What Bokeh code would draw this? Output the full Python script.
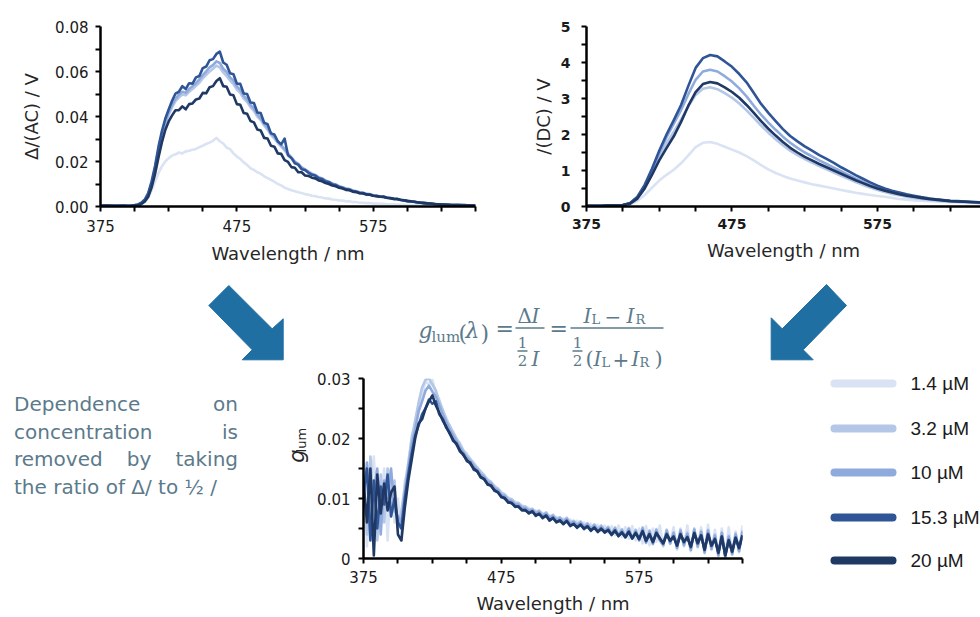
import numpy as np
from bokeh.plotting import figure
from bokeh.models import Range1d, FixedTicker, PrintfTickFormatter, CustomJSTickFormatter, Div
from bokeh.layouts import row, column
from bokeh.core.properties import value
from bokeh.embed import file_html
from bokeh.resources import INLINE

# ---------------- data ----------------
conc_labels = ["1.4 µM", "3.2 µM", "10 µM", "15.3 µM", "20 µM"]
conc_colors = ["#dae3f3", "#b4c7e7", "#8faadc", "#2f5597", "#1f3864"]

wl_dc = np.arange(375, 651, 5)          # 56 points, 5 nm grid
wl_fine = np.arange(375, 650.01, 2.5)   # 111 points, 2.5 nm grid

x_major = [375, 475, 575]
x_minor = [400, 425, 450, 500, 525, 550, 600, 625, 650]
ac_major = [0, 0.02, 0.04, 0.06, 0.08]
ac_minor = [0.01, 0.03, 0.05, 0.07]
dc_major = [0, 1, 2, 3, 4, 5]
dc_minor = [0.5, 1.5, 2.5, 3.5, 4.5]
g_major = [0, 0.01, 0.02, 0.03]
g_minor = [0.005, 0.015, 0.025]

# I(DC) / V
dc_14 = [0.01, 0.01, 0.01, 0.02, 0.02, 0.03, 0.06, 0.15, 0.32, 0.52,
         0.72, 0.88, 1.02, 1.20, 1.42, 1.65, 1.77, 1.79, 1.74, 1.66,
         1.58, 1.50, 1.40, 1.28, 1.15, 1.03, 0.93, 0.85, 0.78, 0.72,
         0.67, 0.62, 0.58, 0.54, 0.50, 0.46, 0.42, 0.38, 0.35, 0.32,
         0.29, 0.27, 0.24, 0.21, 0.19, 0.17, 0.16, 0.15, 0.14, 0.13,
         0.12, 0.11, 0.10, 0.10, 0.09, 0.09]
dc_32 = [0.02, 0.02, 0.02, 0.03, 0.03, 0.04, 0.09, 0.25, 0.55, 0.95,
         1.38, 1.75, 2.08, 2.42, 2.78, 3.10, 3.27, 3.31, 3.26, 3.15,
         3.02, 2.86, 2.67, 2.46, 2.25, 2.05, 1.87, 1.70, 1.55, 1.43,
         1.32, 1.22, 1.12, 1.03, 0.94, 0.85, 0.77, 0.68, 0.60, 0.53,
         0.46, 0.40, 0.35, 0.31, 0.27, 0.24, 0.21, 0.19, 0.17, 0.15,
         0.14, 0.13, 0.12, 0.11, 0.10, 0.09]
dc_10 = [0.02, 0.02, 0.02, 0.03, 0.03, 0.04, 0.09, 0.25, 0.57, 1.00,
         1.48, 1.92, 2.30, 2.68, 3.12, 3.52, 3.75, 3.80, 3.75, 3.62,
         3.47, 3.28, 3.06, 2.80, 2.55, 2.33, 2.13, 1.94, 1.77, 1.63,
         1.50, 1.39, 1.28, 1.18, 1.08, 0.98, 0.88, 0.78, 0.69, 0.60,
         0.52, 0.45, 0.40, 0.35, 0.31, 0.27, 0.24, 0.21, 0.19, 0.17,
         0.15, 0.14, 0.13, 0.12, 0.11, 0.10]
dc_153 = [0.02, 0.02, 0.02, 0.03, 0.03, 0.04, 0.10, 0.27, 0.60, 1.05,
          1.55, 2.00, 2.40, 2.82, 3.35, 3.85, 4.12, 4.21, 4.17, 4.03,
          3.88, 3.68, 3.45, 3.15, 2.85, 2.60, 2.37, 2.15, 1.96, 1.81,
          1.67, 1.55, 1.43, 1.32, 1.21, 1.09, 0.98, 0.87, 0.77, 0.67,
          0.58, 0.50, 0.44, 0.39, 0.34, 0.30, 0.26, 0.23, 0.20, 0.18,
          0.16, 0.15, 0.14, 0.13, 0.12, 0.11]
dc_20 = [0.02, 0.02, 0.02, 0.03, 0.03, 0.04, 0.08, 0.22, 0.50, 0.88,
         1.28, 1.62, 1.95, 2.35, 2.80, 3.18, 3.40, 3.46, 3.42, 3.31,
         3.18, 3.02, 2.82, 2.60, 2.37, 2.16, 1.97, 1.79, 1.63, 1.50,
         1.38, 1.28, 1.18, 1.09, 1.00, 0.91, 0.82, 0.73, 0.65, 0.57,
         0.50, 0.44, 0.39, 0.34, 0.30, 0.27, 0.24, 0.21, 0.19, 0.17,
         0.15, 0.14, 0.13, 0.12, 0.11, 0.10]

# Delta I(AC) / V
ac_14 = [0.0002, 0.0002, 0.0003, 0.0002, 0.0002, 0.0003, 0.0002, 0.0002, 0.0003, 0.0002, 0.0003,
         0.0005, 0.0010, 0.0020, 0.0040, 0.0072, 0.0110, 0.0148, 0.0178, 0.0200, 0.0215,
         0.0226, 0.0232, 0.0240, 0.0236, 0.0245, 0.0248, 0.0252, 0.0256, 0.0264, 0.0270,
         0.0278, 0.0284, 0.0292, 0.0305, 0.0290, 0.0280, 0.0262, 0.0255, 0.0236, 0.0222,
         0.0212, 0.0196, 0.0185, 0.0170, 0.0163, 0.0152, 0.0146, 0.0134, 0.0126, 0.0118,
         0.0110, 0.0100, 0.0094, 0.0084, 0.0078, 0.0072, 0.0068, 0.0063, 0.0060, 0.0055,
         0.0052, 0.0048, 0.0046, 0.0042, 0.0040, 0.0036, 0.0035, 0.0031, 0.0030, 0.0027,
         0.0026, 0.0023, 0.0023, 0.0020, 0.0020, 0.0017, 0.0017, 0.0015, 0.0015, 0.0013,
         0.0013, 0.0012, 0.0012, 0.0010, 0.0010, 0.0009, 0.0009, 0.0008, 0.0008, 0.0007,
         0.0007, 0.0006, 0.0006, 0.0005, 0.0005, 0.0005, 0.0004, 0.0004, 0.0004, 0.0003,
         0.0003, 0.0003, 0.0003, 0.0002, 0.0003, 0.0002, 0.0002, 0.0002, 0.0002, 0.0002]
ac_32 = [0.0002, 0.0003, 0.0003, 0.0002, 0.0003, 0.0004, 0.0002, 0.0003, 0.0003, 0.0002, 0.0004,
         0.0007, 0.0014, 0.0026, 0.0052, 0.0100, 0.0165, 0.0246, 0.0315, 0.0368, 0.0408,
         0.0440, 0.0468, 0.0484, 0.0498, 0.0494, 0.0510, 0.0522, 0.0536, 0.0550, 0.0570,
         0.0585, 0.0600, 0.0612, 0.0626, 0.0618, 0.0596, 0.0580, 0.0560, 0.0544, 0.0520,
         0.0505, 0.0480, 0.0465, 0.0442, 0.0425, 0.0400, 0.0384, 0.0360, 0.0342, 0.0318,
         0.0302, 0.0282, 0.0266, 0.0250, 0.0230, 0.0214, 0.0198, 0.0186, 0.0172, 0.0162,
         0.0152, 0.0144, 0.0137, 0.0128, 0.0122, 0.0114, 0.0108, 0.0100, 0.0096, 0.0089,
         0.0084, 0.0079, 0.0076, 0.0070, 0.0067, 0.0062, 0.0060, 0.0055, 0.0054, 0.0049,
         0.0047, 0.0043, 0.0042, 0.0038, 0.0037, 0.0033, 0.0032, 0.0029, 0.0027, 0.0024,
         0.0022, 0.0020, 0.0018, 0.0016, 0.0015, 0.0013, 0.0012, 0.0011, 0.0010, 0.0009,
         0.0008, 0.0008, 0.0007, 0.0006, 0.0006, 0.0005, 0.0005, 0.0005, 0.0004, 0.0004]
ac_10 = [0.0003, 0.0004, 0.0002, 0.0003, 0.0004, 0.0002, 0.0003, 0.0003, 0.0004, 0.0003, 0.0005,
         0.0008, 0.0015, 0.0028, 0.0055, 0.0104, 0.0170, 0.0252, 0.0322, 0.0376, 0.0418,
         0.0452, 0.0478, 0.0497, 0.0510, 0.0505, 0.0522, 0.0535, 0.0548, 0.0565, 0.0584,
         0.0600, 0.0618, 0.0628, 0.0645, 0.0638, 0.0612, 0.0598, 0.0574, 0.0560, 0.0534,
         0.0518, 0.0492, 0.0476, 0.0452, 0.0436, 0.0410, 0.0392, 0.0368, 0.0350, 0.0324,
         0.0310, 0.0288, 0.0272, 0.0256, 0.0235, 0.0218, 0.0200, 0.0190, 0.0174, 0.0165,
         0.0155, 0.0146, 0.0140, 0.0130, 0.0125, 0.0116, 0.0110, 0.0102, 0.0098, 0.0090,
         0.0086, 0.0080, 0.0078, 0.0071, 0.0068, 0.0063, 0.0061, 0.0056, 0.0055, 0.0050,
         0.0048, 0.0045, 0.0044, 0.0040, 0.0038, 0.0035, 0.0034, 0.0030, 0.0028, 0.0025,
         0.0023, 0.0021, 0.0019, 0.0017, 0.0015, 0.0014, 0.0013, 0.0011, 0.0010, 0.0009,
         0.0009, 0.0008, 0.0007, 0.0007, 0.0006, 0.0006, 0.0005, 0.0005, 0.0005, 0.0004]
ac_153 = [0.0004, 0.0003, 0.0005, 0.0002, 0.0004, 0.0003, 0.0002, 0.0004, 0.0003, 0.0004, 0.0006,
          0.0009, 0.0017, 0.0031, 0.0060, 0.0112, 0.0180, 0.0265, 0.0334, 0.0390, 0.0431,
          0.0470, 0.0502, 0.0510, 0.0535, 0.0522, 0.0548, 0.0546, 0.0574, 0.0580, 0.0615,
          0.0622, 0.0650, 0.0655, 0.0678, 0.0688, 0.0640, 0.0630, 0.0592, 0.0588, 0.0546,
          0.0545, 0.0502, 0.0500, 0.0462, 0.0460, 0.0418, 0.0415, 0.0372, 0.0366, 0.0325,
          0.0320, 0.0290, 0.0276, 0.0302, 0.0228, 0.0216, 0.0192, 0.0186, 0.0166, 0.0162,
          0.0150, 0.0141, 0.0138, 0.0126, 0.0122, 0.0112, 0.0108, 0.0098, 0.0095, 0.0086,
          0.0083, 0.0076, 0.0075, 0.0068, 0.0066, 0.0060, 0.0060, 0.0054, 0.0053, 0.0048,
          0.0047, 0.0043, 0.0044, 0.0039, 0.0038, 0.0034, 0.0033, 0.0029, 0.0027, 0.0024,
          0.0022, 0.0021, 0.0018, 0.0017, 0.0014, 0.0014, 0.0012, 0.0011, 0.0010, 0.0009,
          0.0008, 0.0008, 0.0007, 0.0006, 0.0006, 0.0005, 0.0006, 0.0004, 0.0005, 0.0004]
ac_20 = [0.0003, 0.0004, 0.0003, 0.0004, 0.0002, 0.0003, 0.0004, 0.0003, 0.0002, 0.0003, 0.0004,
         0.0006, 0.0011, 0.0022, 0.0043, 0.0085, 0.0145, 0.0218, 0.0285, 0.0340, 0.0378,
         0.0405, 0.0428, 0.0428, 0.0445, 0.0432, 0.0455, 0.0458, 0.0476, 0.0480, 0.0505,
         0.0503, 0.0530, 0.0535, 0.0558, 0.0570, 0.0535, 0.0532, 0.0498, 0.0494, 0.0455,
         0.0452, 0.0416, 0.0412, 0.0380, 0.0374, 0.0342, 0.0338, 0.0305, 0.0302, 0.0270,
         0.0266, 0.0236, 0.0234, 0.0206, 0.0198, 0.0175, 0.0172, 0.0152, 0.0152, 0.0138,
         0.0136, 0.0128, 0.0125, 0.0116, 0.0112, 0.0104, 0.0100, 0.0093, 0.0090, 0.0083,
         0.0080, 0.0074, 0.0072, 0.0066, 0.0064, 0.0059, 0.0058, 0.0053, 0.0052, 0.0048,
         0.0046, 0.0043, 0.0042, 0.0039, 0.0037, 0.0034, 0.0033, 0.0030, 0.0028, 0.0025,
         0.0023, 0.0021, 0.0019, 0.0017, 0.0016, 0.0014, 0.0013, 0.0011, 0.0010, 0.0009,
         0.0009, 0.0008, 0.0007, 0.0007, 0.0006, 0.0006, 0.0005, 0.0005, 0.0004, 0.0004]

# g_lum
g_14 = [0.0160, 0.0020, 0.0120, 0.0170, 0.0050, 0.0100, 0.0150, 0.0030, 0.0140, 0.0060, 0.0100,
        0.0040, 0.0130, 0.0150, 0.0205, 0.0220, 0.0255, 0.0275, 0.0295, 0.0290, 0.0298,
        0.0275, 0.0265, 0.0245, 0.0235, 0.0218, 0.0212, 0.0198, 0.0193, 0.0180, 0.0175,
        0.0165, 0.0160, 0.0150, 0.0146, 0.0137, 0.0133, 0.0126, 0.0122, 0.0115, 0.0111,
        0.0105, 0.0102, 0.0097, 0.0095, 0.0091, 0.0089, 0.0085, 0.0084, 0.0081, 0.0080,
        0.0076, 0.0076, 0.0071, 0.0072, 0.0067, 0.0069, 0.0064, 0.0067, 0.0060, 0.0065,
        0.0057, 0.0063, 0.0054, 0.0060, 0.0051, 0.0058, 0.0049, 0.0056, 0.0047, 0.0055,
        0.0043, 0.0054, 0.0039, 0.0055, 0.0036, 0.0052, 0.0033, 0.0054, 0.0030, 0.0050,
        0.0025, 0.0054, 0.0022, 0.0050, 0.0028, 0.0055, 0.0020, 0.0048, 0.0024, 0.0052,
        0.0015, 0.0050, 0.0020, 0.0055, 0.0012, 0.0048, 0.0018, 0.0052, 0.0008, 0.0056,
        0.0014, 0.0048, 0.0004, 0.0050, 0.0002, 0.0052, 0.0006, 0.0045, 0.0010, 0.0055]
g_32 = [0.0140, 0.0040, 0.0170, 0.0080, 0.0030, 0.0140, 0.0060, 0.0150, 0.0090, 0.0130, 0.0050,
        0.0080, 0.0120, 0.0160, 0.0200, 0.0230, 0.0260, 0.0285, 0.0298, 0.0300, 0.0290,
        0.0280, 0.0262, 0.0248, 0.0232, 0.0222, 0.0210, 0.0200, 0.0190, 0.0180, 0.0172,
        0.0166, 0.0158, 0.0152, 0.0144, 0.0139, 0.0131, 0.0128, 0.0120, 0.0117, 0.0109,
        0.0107, 0.0100, 0.0099, 0.0092, 0.0093, 0.0086, 0.0087, 0.0081, 0.0083, 0.0077,
        0.0080, 0.0073, 0.0077, 0.0069, 0.0073, 0.0066, 0.0069, 0.0063, 0.0068, 0.0060,
        0.0063, 0.0057, 0.0062, 0.0054, 0.0059, 0.0051, 0.0057, 0.0049, 0.0055, 0.0047,
        0.0053, 0.0042, 0.0052, 0.0040, 0.0049, 0.0037, 0.0051, 0.0034, 0.0048, 0.0031,
        0.0052, 0.0027, 0.0047, 0.0025, 0.0049, 0.0031, 0.0023, 0.0048, 0.0026, 0.0044,
        0.0018, 0.0048, 0.0023, 0.0043, 0.0015, 0.0050, 0.0021, 0.0046, 0.0011, 0.0048,
        0.0017, 0.0040, 0.0006, 0.0044, 0.0003, 0.0038, 0.0008, 0.0042, 0.0013, 0.0047]
g_10 = [0.0090, 0.0160, 0.0060, 0.0110, 0.0150, 0.0040, 0.0130, 0.0100, 0.0150, 0.0080, 0.0070,
        0.0060, 0.0110, 0.0150, 0.0190, 0.0215, 0.0245, 0.0262, 0.0280, 0.0288, 0.0278,
        0.0270, 0.0255, 0.0240, 0.0228, 0.0215, 0.0205, 0.0195, 0.0185, 0.0176, 0.0168,
        0.0162, 0.0154, 0.0148, 0.0140, 0.0136, 0.0128, 0.0125, 0.0117, 0.0114, 0.0106,
        0.0104, 0.0097, 0.0096, 0.0090, 0.0090, 0.0084, 0.0084, 0.0079, 0.0081, 0.0075,
        0.0078, 0.0071, 0.0075, 0.0067, 0.0071, 0.0064, 0.0067, 0.0061, 0.0066, 0.0058,
        0.0061, 0.0055, 0.0060, 0.0052, 0.0057, 0.0049, 0.0055, 0.0047, 0.0053, 0.0046,
        0.0051, 0.0041, 0.0050, 0.0039, 0.0047, 0.0036, 0.0049, 0.0033, 0.0046, 0.0030,
        0.0050, 0.0026, 0.0045, 0.0024, 0.0047, 0.0030, 0.0022, 0.0046, 0.0025, 0.0042,
        0.0017, 0.0046, 0.0022, 0.0041, 0.0014, 0.0048, 0.0020, 0.0044, 0.0010, 0.0046,
        0.0016, 0.0038, 0.0005, 0.0042, 0.0002, 0.0036, 0.0007, 0.0040, 0.0012, 0.0045]
g_153 = [0.0110, 0.0150, 0.0030, 0.0130, 0.0050, 0.0120, 0.0090, 0.0140, 0.0070, 0.0100, 0.0060,
         0.0050, 0.0100, 0.0140, 0.0175, 0.0205, 0.0222, 0.0240, 0.0250, 0.0265, 0.0258,
         0.0262, 0.0240, 0.0233, 0.0218, 0.0210, 0.0196, 0.0192, 0.0178, 0.0174, 0.0162,
         0.0160, 0.0148, 0.0146, 0.0135, 0.0133, 0.0123, 0.0122, 0.0113, 0.0111, 0.0102,
         0.0101, 0.0093, 0.0093, 0.0086, 0.0087, 0.0080, 0.0081, 0.0075, 0.0079, 0.0071,
         0.0075, 0.0067, 0.0072, 0.0063, 0.0068, 0.0060, 0.0064, 0.0057, 0.0063, 0.0054,
         0.0058, 0.0051, 0.0057, 0.0049, 0.0054, 0.0046, 0.0052, 0.0044, 0.0050, 0.0043,
         0.0048, 0.0039, 0.0047, 0.0037, 0.0044, 0.0035, 0.0045, 0.0033, 0.0043, 0.0032,
         0.0046, 0.0029, 0.0041, 0.0027, 0.0043, 0.0033, 0.0026, 0.0041, 0.0029, 0.0037,
         0.0021, 0.0041, 0.0027, 0.0036, 0.0019, 0.0043, 0.0025, 0.0039, 0.0014, 0.0041,
         0.0021, 0.0033, 0.0009, 0.0037, 0.0006, 0.0031, 0.0011, 0.0035, 0.0017, 0.0039]
g_20 = [0.0130, 0.0060, 0.0150, 0.0005, 0.0140, 0.0075, 0.0125, 0.0080, 0.0110, 0.0120, 0.0040,
        0.0030, 0.0085, 0.0130, 0.0165, 0.0200, 0.0225, 0.0232, 0.0250, 0.0262, 0.0272,
        0.0255, 0.0243, 0.0230, 0.0220, 0.0208, 0.0198, 0.0190, 0.0180, 0.0172, 0.0164,
        0.0158, 0.0150, 0.0145, 0.0136, 0.0132, 0.0124, 0.0121, 0.0114, 0.0110, 0.0103,
        0.0100, 0.0094, 0.0092, 0.0087, 0.0086, 0.0081, 0.0080, 0.0076, 0.0078, 0.0072,
        0.0074, 0.0068, 0.0071, 0.0064, 0.0067, 0.0061, 0.0063, 0.0058, 0.0062, 0.0055,
        0.0057, 0.0052, 0.0056, 0.0050, 0.0053, 0.0047, 0.0051, 0.0045, 0.0049, 0.0044,
        0.0047, 0.0040, 0.0046, 0.0038, 0.0043, 0.0036, 0.0044, 0.0034, 0.0042, 0.0033,
        0.0045, 0.0030, 0.0040, 0.0028, 0.0042, 0.0034, 0.0025, 0.0040, 0.0030, 0.0036,
        0.0022, 0.0040, 0.0028, 0.0035, 0.0020, 0.0042, 0.0026, 0.0038, 0.0015, 0.0040,
        0.0022, 0.0032, 0.0010, 0.0036, 0.0005, 0.0030, 0.0012, 0.0034, 0.0018, 0.0038]

ac_series = [ac_14, ac_32, ac_10, ac_153, ac_20]
dc_series = [dc_14, dc_32, dc_10, dc_153, dc_20]
g_series = [g_14, g_32, g_10, g_153, g_20]

# ---------------- styling ----------------
FONT = "DejaVu Sans"
SERIF = "DejaVu Serif"
SLATE = "#5b7a8b"
ARROW = "#1f6fa3"


def style(p, bold=False):
    p.outline_line_color = None
    p.xgrid.visible = False
    p.ygrid.visible = False
    p.background_fill_color = "white"
    p.border_fill_color = "white"
    for ax in (p.xaxis[0], p.yaxis[0]):
        ax.axis_line_width = 2.5
        ax.axis_line_color = "black"
        ax.major_tick_line_width = 2
        ax.minor_tick_line_width = 2
        ax.major_tick_in = 0
        ax.major_tick_out = 5
        ax.minor_tick_in = 0
        ax.minor_tick_out = 5
        ax.major_label_text_font = FONT
        ax.major_label_text_font_size = "14px" if bold else "15px"
        ax.major_label_text_font_style = "bold" if bold else "normal"
        ax.major_label_text_color = "#1a1a1a"
        ax.axis_label_text_font = FONT
        ax.axis_label_text_font_size = "18px"
        ax.axis_label_text_font_style = "normal"
        ax.axis_label_text_color = "#262626"


def deco_fig(w, h, xr, yr):
    p = figure(width=w, height=h, x_range=Range1d(*xr), y_range=Range1d(*yr),
               x_axis_type=None, y_axis_type=None, output_backend="svg", title=None,
               toolbar_location=None, min_border_left=0, min_border_right=0,
               min_border_top=0, min_border_bottom=0)
    p.outline_line_color = None
    p.background_fill_color = "white"
    p.border_fill_color = "white"
    return p


# ---------------- top left: AC ----------------
p1 = figure(width=498, height=281, x_range=Range1d(375, 650), y_range=Range1d(0, 0.08),
            output_backend="svg", toolbar_location=None, title=None,
            min_border_left=100, min_border_right=23, min_border_top=26, min_border_bottom=75)
for ys, c in zip(ac_series, conc_colors):
    p1.line(wl_fine, ys, line_color=c, line_width=2.6, line_join="round")
style(p1)
p1.xaxis.ticker = FixedTicker(ticks=x_major, minor_ticks=x_minor)
p1.yaxis.ticker = FixedTicker(ticks=ac_major, minor_ticks=ac_minor)
p1.yaxis.formatter = PrintfTickFormatter(format="%.2f")
p1.xaxis.axis_label = "Wavelength / nm"
p1.yaxis.axis_label = "Δ/(AC) / V"
p1.xaxis.major_label_standoff = 8
p1.yaxis.major_label_standoff = 7
p1.xaxis.axis_label_standoff = 8
p1.yaxis.axis_label_standoff = 10

# ---------------- top right: DC ----------------
p2 = figure(width=482, height=281, x_range=Range1d(375, 645.8), y_range=Range1d(0, 5),
            output_backend="svg", toolbar_location=None, title=None,
            min_border_left=88, min_border_right=0, min_border_top=26, min_border_bottom=75)
for ys, c in zip(dc_series, conc_colors):
    p2.line(wl_dc, ys, line_color=c, line_width=2.6, line_join="round")
style(p2, bold=True)
p2.xaxis.ticker = FixedTicker(ticks=x_major, minor_ticks=x_minor)
p2.yaxis.ticker = FixedTicker(ticks=dc_major, minor_ticks=dc_minor)
p2.xaxis.axis_label = "Wavelength / nm"
p2.yaxis.axis_label = "/(DC) / V"
p2.xaxis.major_label_standoff = 7
p2.yaxis.major_label_standoff = 11
p2.xaxis.axis_label_standoff = 8
p2.yaxis.axis_label_standoff = 4

# ---------------- bottom: g_lum ----------------
p3 = figure(width=451, height=246, x_range=Range1d(375, 650), y_range=Range1d(0, 0.03),
            output_backend="svg", toolbar_location=None, title=None,
            min_border_left=52, min_border_right=20, min_border_top=7, min_border_bottom=59)
for ys, c in zip(g_series, conc_colors):
    p3.line(wl_fine, ys, line_color=c, line_width=2.6, line_join="round")
style(p3)
p3.xaxis.ticker = FixedTicker(ticks=x_major, minor_ticks=x_minor)
p3.yaxis.ticker = FixedTicker(ticks=g_major, minor_ticks=g_minor)
p3.yaxis.formatter = CustomJSTickFormatter(code="return tick == 0 ? '0' : tick.toFixed(2);")
p3.xaxis.axis_label = "Wavelength / nm"
p3.xaxis.major_label_standoff = 7
p3.yaxis.major_label_standoff = 8
p3.xaxis.axis_label_standoff = 7

# y label g_lum, drawn as rotated text in a narrow strip (y = 617 - page y)
plab = deco_fig(27, 246, (284, 311), (0, 246))
plab.text(x=[296], y=[131], text=["g"], angle=np.pi / 2, text_font=value(FONT),
          text_font_style="italic", text_font_size="21px", text_color="#262626",
          text_baseline="middle", text_align="left")
plab.text(x=[300.5], y=[145], text=["lum"], angle=np.pi / 2, text_font=value(FONT),
          text_font_size="13px", text_color="#262626",
          text_baseline="middle", text_align="left")

# ---------------- arrows ----------------
left_arrow_x = [228.3, 271.7, 282.7, 282.7, 241.7, 251.7, 208.3]
left_arrow_y = [285.0, 328.3, 318.3, 359.3, 359.3, 349.3, 305.0]
right_arrow_x = [826.0, 781.7, 770.7, 770.7, 812.7, 802.7, 846.0]
right_arrow_y = [284.0, 328.3, 317.3, 359.3, 359.3, 349.3, 305.0]

pl = deco_fig(284, 110, (0, 284), (391, 281))
pl.patch(left_arrow_x, left_arrow_y, color=ARROW)

# ---------------- explanatory text ----------------
line_style = "text-align:justify;text-align-last:justify;"
html = (
    f'<div style="width:224px;margin-left:14px;font-family:\'{FONT}\';font-size:20px;'
    f'line-height:27.5px;color:{SLATE};">'
    f'<div style="{line_style}">Dependence on</div>'
    f'<div style="{line_style}">concentration is</div>'
    f'<div style="{line_style}">removed by taking</div>'
    f'<div>the ratio of Δ/ to ½ /</div>'
    '</div>'
)
div = Div(text=html, width=284, height=226, styles={"margin": "0", "padding": "0"})

# ---------------- formula ----------------
pf = deco_fig(478, 90, (284, 762), (371, 281))


def ftxt(x, y, s, size, italic=False, align="left"):
    pf.text(x=[x], y=[y], text=[s], text_font=value(SERIF), text_font_size=f"{size}px",
            text_font_style="italic" if italic else "normal", text_color=SLATE,
            text_align=align, text_baseline="middle")


ftxt(418, 329.5, "g", 22, italic=True)
ftxt(431, 336, "lum", 15)
ftxt(458, 332.5, "(", 22)
ftxt(465, 330, "λ", 22, italic=True)
ftxt(480, 332.5, ")", 22)
ftxt(495, 328, "=", 22)
ftxt(517, 315.5, "Δ", 20)
ftxt(531, 315.5, "I", 20, italic=True)
ftxt(522, 342, "1", 15, align="center")
ftxt(522, 359.5, "2", 15, align="center")
ftxt(531, 358.5, "I", 20, italic=True)
ftxt(549, 328, "=", 22)
ftxt(583, 315.5, "I", 20, italic=True)
ftxt(591, 319, "L", 13)
ftxt(604, 315.5, "−", 20)
ftxt(626, 315.5, "I", 20, italic=True)
ftxt(635, 319, "R", 13)
ftxt(577, 342, "1", 15, align="center")
ftxt(577, 359.5, "2", 15, align="center")
ftxt(585, 358.5, "(", 21)
ftxt(593, 358.5, "I", 20, italic=True)
ftxt(601, 362, "L", 13)
ftxt(612, 358.5, "+", 20)
ftxt(631, 358.5, "I", 20, italic=True)
ftxt(639, 362, "R", 13)
ftxt(654, 358.5, ")", 21)
pf.segment(x0=[515, 517, 570, 572], x1=[544, 527, 663, 582],
           y0=[327.5, 350.5, 327.5, 350.5], y1=[327.5, 350.5, 327.5, 350.5],
           line_color=SLATE, line_width=1.3)

# ---------------- right: arrow + legend ----------------
pr = deco_fig(218, 336, (762, 980), (617, 281))
pr.patch(right_arrow_x, right_arrow_y, color=ARROW)
legend_y = [383, 428, 472, 517, 560]
pr.segment(x0=834, x1=892, y0=legend_y, y1=legend_y, line_color=conc_colors,
           line_width=8, line_cap="round")
pr.text(x=910, y=legend_y, text=conc_labels, text_font=value("Liberation Sans"),
        text_font_size="19px", text_baseline="middle", text_align="left", text_color="#1a1a1a")

# ---------------- layout ----------------
top = row(p1, p2)
left_col = column(pl, div)
mid_col = column(pf, row(plab, p3))
bottom = row(left_col, mid_col, pr)
layout = column(top, bottom)

open("out.html", "w").write(file_html(layout, INLINE, title="g_lum"))
